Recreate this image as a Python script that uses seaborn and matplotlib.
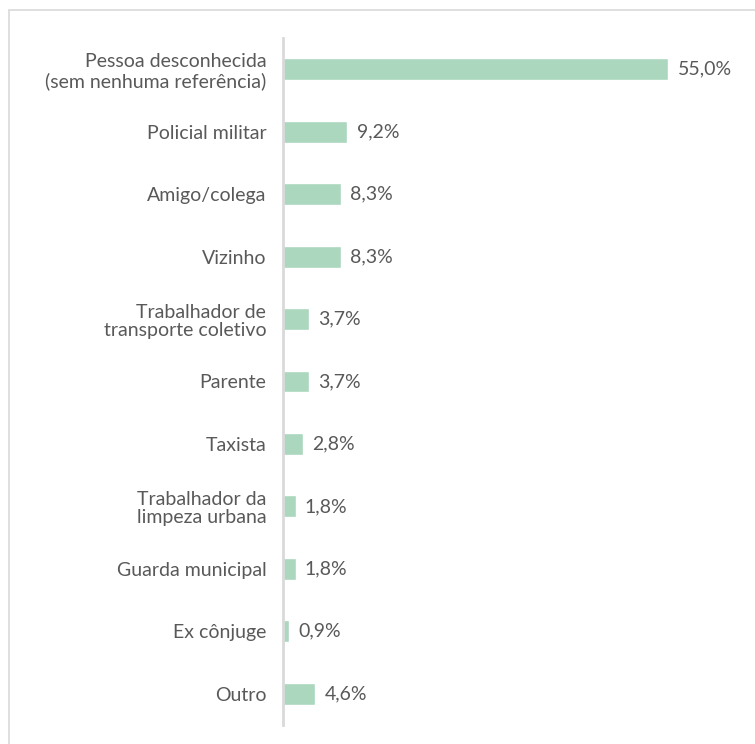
import matplotlib.pyplot as plt
import matplotlib.patches as mpatches
import seaborn as sns
import pandas as pd

categories = [
    "Pessoa desconhecida\n(sem nenhuma referência)",
    "Policial militar",
    "Amigo/colega",
    "Vizinho",
    "Trabalhador de\ntransporte coletivo",
    "Parente",
    "Taxista",
    "Trabalhador da\nlimpeza urbana",
    "Guarda municipal",
    "Ex cônjuge",
    "Outro",
]
values = [55.0, 9.2, 8.3, 8.3, 3.7, 3.7, 2.8, 1.8, 1.8, 0.9, 4.6]

df = pd.DataFrame({"categoria": categories, "pct": values})

sns.set_style("white")
plt.rcParams['font.family'] = ['Lato', 'DejaVu Sans']

fig = plt.figure(figsize=(7.55, 7.44), dpi=100)
ax = fig.add_axes([283 / 755, 19 / 744, 452 / 755, 687 / 744])

# outer frame (runs off the right and bottom edges)
fig.patches.append(mpatches.Rectangle((9 / 755, -0.1), 1.2, 1 - 10 / 744 + 0.1,
                                      transform=fig.transFigure, fill=False,
                                      edgecolor='#d9d9d9', linewidth=1.2))

sns.barplot(data=df, y="categoria", x="pct", orient='h', color='#abd7bf',
            saturation=1, width=0.35, ax=ax)

for i, v in enumerate(values):
    ax.text(v + 1.3, i, f"{v:.1f}%".replace('.', ','), va='center', ha='left',
            fontsize=14, color='#595959')

ax.set_xlim(0, 64.5)
ax.set_ylim(10.5, -0.5)
ax.set_xlabel('')
ax.set_ylabel('')
ax.set_xticks([])
ax.tick_params(axis='y', length=0, pad=12, labelsize=14, labelcolor='#595959')
for lbl in ax.get_yticklabels():
    lbl.set_horizontalalignment('right')
    lbl.set_multialignment('right')
    lbl.set_linespacing(1.1)

for s in ['top', 'right', 'bottom']:
    ax.spines[s].set_visible(False)
ax.spines['left'].set_color('#d9d9d9')
ax.spines['left'].set_linewidth(2)

fig.savefig('out.png', dpi=100)
